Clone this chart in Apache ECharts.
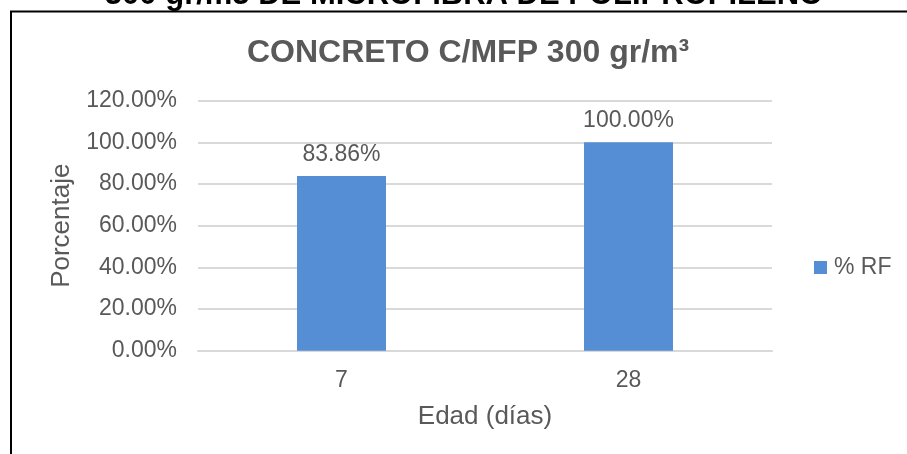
<!DOCTYPE html>
<html>
<head>
<meta charset="utf-8">
<script src="https://cdn.jsdelivr.net/npm/echarts@6/dist/echarts.min.js"></script>
<style>
  html, body { margin: 0; padding: 0; background: #ffffff; }
  #chart { width: 907px; height: 454px; }
</style>
</head>
<body>
<div id="chart"></div>
<script>
// Compressive strength ratio by curing age
const categories = ['7', '28'];
const seriesName = '% RF';
const values = [83.86, 100.00];
const yTicks = { min: 0, max: 120, interval: 20 };

const headerText = '300 gr/m3 DE MICROFIBRA DE POLIPROPILENO';
const chartTitle = 'CONCRETO C/MFP 300 gr/m³';
const xName = 'Edad (días)';
const yName = 'Porcentaje';

const FONT = "'Liberation Sans', Arial, sans-serif";
const TEXT = '#595959';
const fmtPct = v => Number(v).toFixed(2) + '%';

const chart = echarts.init(document.getElementById('chart'), null, { renderer: 'canvas' });

chart.setOption({
  backgroundColor: '#ffffff',
  animation: false,
  textStyle: { fontFamily: FONT },
  graphic: [
    // caption sitting above the chart frame
    {
      type: 'text', silent: true,
      style: {
        text: headerText, x: 464, y: -4.5, align: 'center', verticalAlign: 'middle',
        font: 'bold 31px ' + FONT, fill: '#000000'
      }
    },
    // chart frame
    {
      type: 'rect', silent: true,
      shape: { x: 11, y: 11.5, width: 1000, height: 1000 },
      style: { fill: 'none', stroke: '#000000', lineWidth: 2 }
    },
    // chart title
    {
      type: 'text', silent: true,
      style: {
        text: chartTitle, x: 247, y: 53.2, align: 'left', verticalAlign: 'middle',
        font: 'bold 32px ' + FONT, fill: TEXT
      }
    }
  ],
  legend: {
    data: [seriesName],
    left: 814, top: 256, padding: 0,
    icon: 'rect', itemWidth: 13, itemHeight: 13, itemGap: 10,
    textStyle: { fontSize: 23, color: TEXT, fontFamily: FONT, padding: [0, 0, 0, 2] }
  },
  grid: { left: 198, right: 135, top: 100.7, height: 250, containLabel: false },
  xAxis: {
    type: 'category',
    data: categories,
    name: xName,
    nameLocation: 'middle',
    nameGap: 53,
    nameTextStyle: { fontSize: 26, color: TEXT, fontFamily: FONT },
    axisLine: { show: true, lineStyle: { color: '#d9d9d9', width: 2 } },
    axisTick: { show: false },
    axisLabel: { fontSize: 23, color: TEXT, margin: 18, fontFamily: FONT }
  },
  yAxis: {
    type: 'value',
    min: yTicks.min, max: yTicks.max, interval: yTicks.interval,
    name: yName,
    nameLocation: 'middle',
    nameGap: 122,
    nameTextStyle: { fontSize: 26, color: TEXT, fontFamily: FONT },
    axisLine: { show: false },
    axisTick: { show: false },
    axisLabel: { fontSize: 23, color: TEXT, margin: 21, fontFamily: FONT, formatter: fmtPct },
    splitLine: { lineStyle: { color: '#d9d9d9', width: 2 } }
  },
  series: [{
    name: seriesName,
    type: 'bar',
    data: values,
    barWidth: '31%',
    itemStyle: { color: '#558ed5' },
    label: {
      show: true, position: 'top', distance: 10,
      fontSize: 23, color: TEXT, fontFamily: FONT,
      formatter: p => fmtPct(p.value)
    }
  }]
});
</script>
</body>
</html>
